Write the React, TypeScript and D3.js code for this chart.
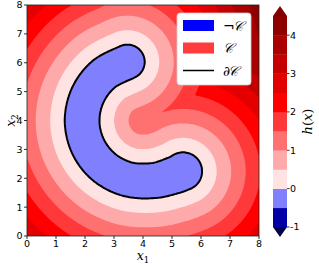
import * as d3 from 'd3';
import { useMemo } from 'react';

// centre line of the unsafe C-shaped set and its half width
const spineX = [3.46, 2.65, 2.10, 1.90, 2.10, 2.65, 3.46, 4.36, 5.06, 5.38];
const spineY = [6.03, 5.61, 4.89, 4.00, 3.11, 2.39, 1.97, 1.92, 2.10, 2.24];
const halfWidths = [0.6, 0.6, 0.6, 0.6, 0.6, 0.6, 0.6, 0.61, 0.64, 0.66];
const insideScale = 0.7;

const levels = [-1, -0.5, 0, 0.5, 1, 1.5, 2, 2.5, 3, 3.5, 4, 4.5];
const bandColors = ['#0000a6', '#8080ff', '#ffe3e3', '#ffaaaa', '#ff7171', '#ff3939', '#ff0000', '#e30000', '#c60000', '#aa0000', '#8e0000'];
const underColor = '#00004d';
const overColor = '#800000';

const axisTicks = [0, 1, 2, 3, 4, 5, 6, 7, 8];
const cbarTicks = [-1, 0, 1, 2, 3, 4];

const legendLabels = ['¬𝒞', '𝒞', '∂𝒞'];
const legendKinds = ['patch', 'patch', 'line'];
const legendColors = ['#0000ff', '#ff3b3b', '#000000'];

const W = 319;
const H = 266;
const N = 200;

// smooth the spine with a Catmull-Rom curve so the tube has no corners
function smoothSpine() {
    const pts = spineX.map((v, i) => [v, spineY[i], halfWidths[i]]);
    const out: number[][] = [];
    const n = pts.length;
    for (let i = 0; i < n - 1; i++) {
        const p0 = pts[Math.max(0, i - 1)], p1 = pts[i], p2 = pts[i + 1], p3 = pts[Math.min(n - 1, i + 2)];
        for (let s = 0; s < 12; s++) {
            const t = s / 12, t2 = t * t, t3 = t2 * t;
            const f = (a: number, b: number, c: number, d: number) =>
                0.5 * (2 * b + (-a + c) * t + (2 * a - 5 * b + 4 * c - d) * t2 + (-a + 3 * b - 3 * c + d) * t3);
            out.push([f(p0[0], p1[0], p2[0], p3[0]), f(p0[1], p1[1], p2[1], p3[1]), p1[2] + (p2[2] - p1[2]) * t]);
        }
    }
    out.push(pts[n - 1]);
    return out;
}

export default function App() {
    const x = d3.scaleLinear().domain([0, 8]).range([27, 259]);
    const y = d3.scaleLinear().domain([0, 8]).range([236, 5]);
    const cb = d3.scaleLinear().domain([-1, 4.5]).range([227, 16]);
    const cbX = 273, cbW = 14;

    const { bands, zero } = useMemo(() => {
        const spine = smoothSpine();
        const h = (px: number, py: number) => {
            let best = Infinity;
            for (let k = 0; k < spine.length - 1; k++) {
                const [ax, ay, ar] = spine[k], [bx, by, br] = spine[k + 1];
                const dx = bx - ax, dy = by - ay;
                const len2 = dx * dx + dy * dy;
                let t = len2 > 0 ? ((px - ax) * dx + (py - ay) * dy) / len2 : 0;
                t = Math.max(0, Math.min(1, t));
                const qx = ax + t * dx - px, qy = ay + t * dy - py;
                const v = Math.sqrt(qx * qx + qy * qy) - (ar + (br - ar) * t);
                if (v < best) best = v;
            }
            return best < 0 ? best * insideScale : best;
        };
        const values = new Array(N * N);
        for (let j = 0; j < N; j++) {
            for (let i = 0; i < N; i++) {
                values[j * N + i] = h((i + 0.5) * 8 / N, (j + 0.5) * 8 / N);
            }
        }
        const bands = d3.contours().size([N, N]).thresholds(levels)(values);
        const zero = d3.contours().size([N, N]).thresholds([0])(values.map(v => -v));
        return { bands, zero };
    }, []);

    const proj = d3.geoTransform({
        point(px, py) {
            this.stream.point(x(px * 8 / N), y(py * 8 / N));
        },
    });
    const path = d3.geoPath(proj);

    return (
        <svg width={W} height={H} style={{ position: 'absolute', left: 0, top: 0, background: '#fff' }}
            fontFamily="DejaVu Sans">
            <rect x={x(0)} y={y(8)} width={x(8) - x(0)} height={y(0) - y(8)} fill={underColor} />
            {bands.map((b, k) => (
                <path key={k} d={path(b as any) || ''} fill={k < bandColors.length ? bandColors[k] : overColor} />
            ))}
            {zero.map((b, k) => (
                <path key={'z' + k} d={path(b as any) || ''} fill="none" stroke="#000" strokeWidth={2} />
            ))}
            <rect x={x(0)} y={y(8)} width={x(8) - x(0)} height={y(0) - y(8)} fill="none" stroke="#222" strokeWidth={0.8} />

            {/* axes */}
            {axisTicks.map(t => (
                <g key={'x' + t}>
                    <line x1={x(t)} x2={x(t)} y1={y(0)} y2={y(0) + 3} stroke="#000" strokeWidth={0.8} />
                    <text x={x(t)} y={y(0) + 11} fontSize={9.5} textAnchor="middle">{t}</text>
                </g>
            ))}
            {axisTicks.map(t => (
                <g key={'y' + t}>
                    <line x1={x(0) - 3} x2={x(0)} y1={y(t)} y2={y(t)} stroke="#000" strokeWidth={0.8} />
                    <text x={x(0) - 4.5} y={y(t) + 3.4} fontSize={9.5} textAnchor="end">{t}</text>
                </g>
            ))}
            <text x={(x(0) + x(8)) / 2} y={260} fontSize={12.5} textAnchor="middle" fontFamily="DejaVu Serif">
                <tspan fontStyle="italic">x</tspan><tspan fontSize={8.5} dy={2.5}>1</tspan>
            </text>
            <text transform={`translate(15,${(y(0) + y(8)) / 2}) rotate(-90)`} fontSize={12.5} textAnchor="middle" fontFamily="DejaVu Serif">
                <tspan fontStyle="italic">x</tspan><tspan fontSize={8.5} dy={2.5}>2</tspan>
            </text>

            {/* colorbar */}
            {levels.slice(0, -1).map((l, k) => (
                <rect key={'cb' + k} x={cbX} width={cbW} y={cb(levels[k + 1])} height={cb(l) - cb(levels[k + 1]) + 0.3} fill={bandColors[k]} />
            ))}
            <path d={`M${cbX},${cb(4.5)}L${cbX + cbW},${cb(4.5)}L${cbX + cbW / 2},${cb(4.5) - 10}Z`} fill={overColor} />
            <path d={`M${cbX},${cb(-1)}L${cbX + cbW},${cb(-1)}L${cbX + cbW / 2},${cb(-1) + 10}Z`} fill={underColor} />
            {cbarTicks.map(t => (
                <g key={'c' + t}>
                    <line x1={cbX + cbW} x2={cbX + cbW + 2.5} y1={cb(t)} y2={cb(t)} stroke="#000" strokeWidth={0.8} />
                    <text x={cbX + cbW + 3} y={cb(t) + 3.4} fontSize={9.5}>{t === -1 ? '-1' : t}</text>
                </g>
            ))}
            <text transform={`translate(312,${(cb(-1) + cb(4.5)) / 2}) rotate(-90)`} fontSize={13} textAnchor="middle" fontFamily="DejaVu Serif">
                <tspan fontStyle="italic">h</tspan>(<tspan fontStyle="italic">x</tspan>)
            </text>

            {/* legend */}
            <rect x={177} y={13} width={74} height={72} rx={3} fill="#fff" stroke="#ccc" strokeWidth={0.8} />
            {legendLabels.map((lab, k) => {
                const cy = 25.5 + k * 22.5;
                return (
                    <g key={'l' + k}>
                        {legendKinds[k] === 'patch'
                            ? <rect x={183} y={cy - 5.5} width={31} height={11} fill={legendColors[k]} />
                            : <line x1={183} x2={214} y1={cy} y2={cy} stroke={legendColors[k]} strokeWidth={1.5} />}
                        <text x={223} y={cy + 5} fontSize={14} fontFamily="DejaVu Serif" fontStyle="italic" letterSpacing={-2}>{lab}</text>
                    </g>
                );
            })}
        </svg>
    );
}
